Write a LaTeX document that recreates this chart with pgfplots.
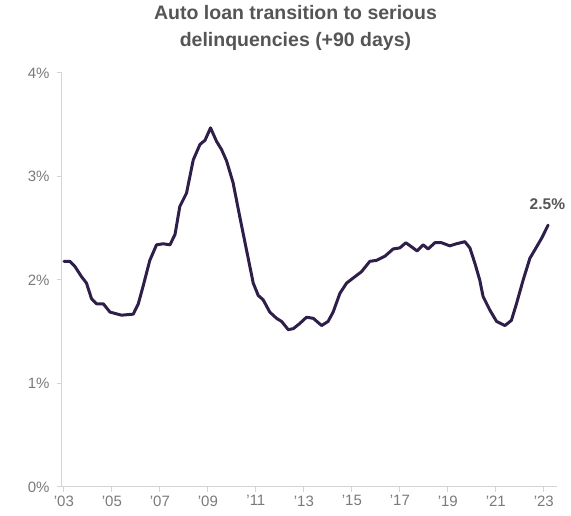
\documentclass[border=0pt]{standalone}
\usepackage{pgfplots}
\pgfplotsset{compat=1.18}
\usepackage{fontspec}
\setmainfont{Liberation Sans}
\definecolor{linepurple}{HTML}{2E1F4A}
\definecolor{titlegray}{HTML}{555555}
\definecolor{tickgray}{HTML}{7A7A7A}
\definecolor{axisgray}{HTML}{D4D4D4}
\begin{document}
\begin{tikzpicture}
\path[use as bounding box] (-62pt,-29pt) rectangle (509pt,487pt);
\begin{axis}[
  at={(0,0)}, anchor=south west,
  scale only axis,
  width=495pt, height=414pt,
  xmin=2002.92, xmax=2023.55,
  ymin=0, ymax=4,
  axis x line*=bottom, axis y line*=left,
  axis line style={axisgray, line width=1pt},
  tick style={axisgray, line width=1pt},
  tick align=outside,
  major tick length=5pt,
  xtick={2003,2005,2007,2009,2011,2013,2015,2017,2019,2021,2023},
  xticklabels={'03,'05,'07,'09,'11,'13,'15,'17,'19,'21,'23},
  ytick={0,1,2,3,4},
  yticklabels={0\%,1\%,2\%,3\%,4\%},
  ticklabel style={font=\fontsize{15}{17}\selectfont, text=tickgray},
  xticklabel style={yshift=0pt},
  yticklabel style={xshift=-4pt},
  title={Auto loan transition to serious\\delinquencies (+90 days)},
  title style={align=center, font=\bfseries\fontsize{19.5}{27}\selectfont, text=titlegray, yshift=13pt, xshift=-14pt},
  clip=false,
]
\addplot[linepurple, line width=3pt, line join=round, line cap=round] coordinates {
(2003.0,2.18) (2003.25,2.18) (2003.46,2.13) (2003.74,2.03) (2003.94,1.97)
(2004.15,1.82) (2004.36,1.77) (2004.64,1.77) (2004.92,1.69) (2005.4,1.66)
(2005.89,1.67) (2006.1,1.77) (2006.3,1.94) (2006.58,2.19) (2006.86,2.34)
(2007.14,2.35) (2007.42,2.34) (2007.63,2.44) (2007.83,2.71) (2008.11,2.84)
(2008.39,3.16) (2008.67,3.31) (2008.88,3.35) (2009.11,3.47) (2009.36,3.34)
(2009.57,3.26) (2009.78,3.15) (2010.05,2.94) (2010.33,2.61) (2010.61,2.29)
(2010.89,1.97) (2011.1,1.85) (2011.3,1.81) (2011.58,1.69) (2011.86,1.63)
(2012.07,1.60) (2012.35,1.52) (2012.56,1.53) (2012.83,1.58) (2013.11,1.64)
(2013.39,1.63) (2013.74,1.56) (2014.01,1.60) (2014.22,1.69) (2014.5,1.87)
(2014.78,1.97) (2015.06,2.02) (2015.4,2.08) (2015.75,2.18) (2016.03,2.19)
(2016.38,2.23) (2016.72,2.30) (2017.0,2.31) (2017.25,2.36) (2017.49,2.32)
(2017.72,2.28) (2017.97,2.34) (2018.18,2.30) (2018.46,2.36) (2018.74,2.36)
(2019.08,2.33) (2019.36,2.35) (2019.71,2.37) (2019.92,2.31) (2020.13,2.16)
(2020.33,2.00) (2020.47,1.84) (2020.75,1.71) (2021.03,1.60) (2021.38,1.56)
(2021.65,1.61) (2021.86,1.77) (2022.14,2.00) (2022.42,2.21) (2022.7,2.32)
(2022.9,2.40) (2023.18,2.53)
};
\node[font=\bfseries\fontsize{15.5}{17}\selectfont, text=titlegray] at (axis cs:2023.15,2.73) {2.5\%};
\end{axis}
\end{tikzpicture}
\end{document}
